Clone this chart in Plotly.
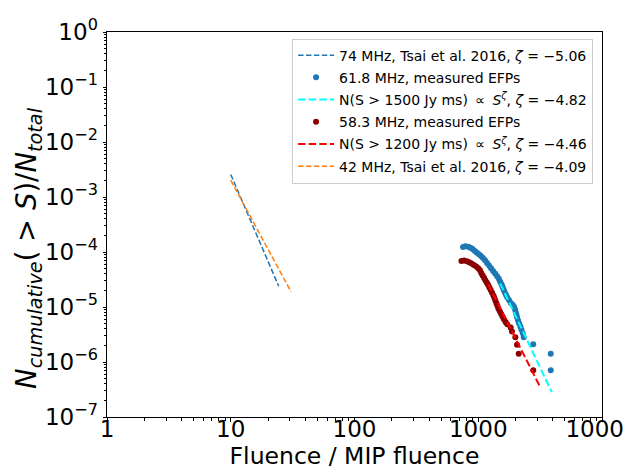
import plotly.graph_objects as go

# ---- data ----
tsai74_fluence = [10.0, 24.4]
tsai74_N = [2.57e-3, 2.39e-5]

meas618_fluence = [754, 788, 829, 866, 899, 939, 975, 1013, 1051, 1092, 1134, 1177, 1222, 1269,
                   1318, 1369, 1421, 1466, 1504, 1542, 1571, 1601, 1631, 1673, 1715, 1770, 1826,
                   1896, 1944, 1982, 2007, 2032, 2057, 2097, 2136, 2191, 2233, 2290, 2333, 2781,
                   3853, 3853]
meas618_N = [1.23e-4, 1.27e-4, 1.25e-4, 1.20e-4, 1.13e-4, 1.04e-4, 9.7e-5, 9.1e-5, 8.5e-5, 7.8e-5,
             7.07e-5, 6.33e-5, 5.66e-5, 5.07e-5, 4.53e-5, 4.06e-5, 3.63e-5, 3.25e-5, 2.87e-5,
             2.60e-5, 2.33e-5, 2.09e-5, 1.87e-5, 1.67e-5, 1.50e-5, 1.34e-5, 1.20e-5, 1.10e-5,
             1.01e-5, 9.1e-6, 8.1e-6, 7.3e-6, 6.5e-6, 5.7e-6, 5.07e-6, 4.41e-6, 3.84e-6, 3.34e-6,
             2.83e-6, 2.11e-6, 1.41e-6, 7.07e-7]

fit1500_fluence = [1504, 3926]
fit1500_N = [2.68e-5, 2.83e-7]

meas583_fluence = [731, 768, 808, 844, 882, 922, 963, 1000, 1032, 1058, 1085, 1113, 1141, 1170,
                   1200, 1230, 1261, 1293, 1326, 1351, 1377, 1404, 1430, 1457, 1494, 1532, 1571,
                   1611, 1662, 1715, 1826, 1873, 1994, 2057, 2123, 2781]
meas583_N = [6.88e-5, 6.97e-5, 6.78e-5, 6.51e-5, 6.15e-5, 5.82e-5, 5.43e-5, 5.07e-5, 4.66e-5,
             4.17e-5, 3.74e-5, 3.39e-5, 3.08e-5, 2.79e-5, 2.53e-5, 2.27e-5, 2.03e-5, 1.82e-5,
             1.62e-5, 1.45e-5, 1.30e-5, 1.16e-5, 1.04e-5, 9.3e-6, 8.35e-6, 7.47e-6, 6.69e-6,
             5.98e-6, 5.36e-6, 4.86e-6, 4.23e-6, 3.58e-6, 2.83e-6, 2.06e-6, 1.41e-6, 7.07e-7]

fit1200_fluence = [1200, 3190]
fit1200_N = [2.6e-5, 3.39e-7]

tsai42_fluence = [10.0, 30.7]
tsai42_N = [2.02e-3, 1.89e-5]

x_tickvals = [1, 10, 100, 1000, 10000]
x_ticktext = ["1", "10", "100", "1000", "10000"]
y_tickvals = [1, 1e-1, 1e-2, 1e-3, 1e-4, 1e-5, 1e-6, 1e-7]
y_ticktext = ["10<sup>0</sup>", "10<sup>−1</sup>", "10<sup>−2</sup>", "10<sup>−3</sup>",
              "10<sup>−4</sup>", "10<sup>−5</sup>", "10<sup>−6</sup>", "10<sup>−7</sup>"]

FONT = "DejaVu Sans"
thin_dash = "5.5px,2.4px"
thick_dash = "7.4px,3.2px"

# minor tick positions (2..9 within each decade)
x_minor = [m * 10 ** e for e in range(0, 4) for m in range(2, 10)]
y_minor = [m * 10.0 ** e for e in range(-7, 0) for m in range(2, 10)]

traces = [
    dict(x=tsai74_fluence, y=tsai74_N, mode="lines",
         line=dict(color="#1f77b4", width=1.5, dash=thin_dash),
         name="74 MHz, Tsai et al. 2016, <i>ζ</i> = −5.06"),
    dict(x=meas618_fluence, y=meas618_N, mode="markers",
         marker=dict(color="#1f77b4", size=6),
         name="61.8 MHz, measured EFPs"),
    dict(x=fit1500_fluence, y=fit1500_N, mode="lines",
         line=dict(color="#00ffff", width=2, dash=thick_dash),
         name="N(S &gt; 1500 Jy ms) \u2009∝\u2009 <i>S</i><sup><i>ζ</i></sup>, <i>ζ</i> = −4.82"),
    dict(x=meas583_fluence, y=meas583_N, mode="markers",
         marker=dict(color="#8b0000", size=6),
         name="58.3 MHz, measured EFPs"),
    dict(x=fit1200_fluence, y=fit1200_N, mode="lines",
         line=dict(color="#ff0000", width=2, dash=thick_dash),
         name="N(S &gt; 1200 Jy ms) \u2009∝\u2009 <i>S</i><sup><i>ζ</i></sup>, <i>ζ</i> = −4.46"),
    dict(x=tsai42_fluence, y=tsai42_N, mode="lines",
         line=dict(color="#ff7f0e", width=1.5, dash=thin_dash),
         name="42 MHz, Tsai et al. 2016, <i>ζ</i> = −4.09"),
]

fig = go.Figure()
for i, t in enumerate(traces):
    fig.add_trace(go.Scatter(legendgroup=f"g{i}", **t))

axis_common = dict(showline=True, linecolor="black", linewidth=1, mirror=True,
                   ticks="outside", ticklen=3.5, tickwidth=1, tickcolor="black",
                   showgrid=False, zeroline=False,
                   tickfont=dict(family=FONT, size=23, color="black"))

fig.update_xaxes(type="log", range=[0, 4], tickvals=x_tickvals, ticktext=x_ticktext,
                 ticklabelstandoff=-12,
                 minor=dict(tickvals=x_minor, ticks="outside", ticklen=2.5, tickwidth=1,
                            tickcolor="black", showgrid=False),
                 title=dict(text="Fluence / MIP fluence",
                            font=dict(family=FONT, size=23.5, color="black"), standoff=0),
                 **axis_common)
fig.update_yaxes(type="log", range=[-7, 0], tickvals=y_tickvals, ticktext=y_ticktext,
                 minor=dict(tickvals=y_minor, ticks="outside", ticklen=2.5, tickwidth=1,
                            tickcolor="black", showgrid=False),
                 **axis_common)

fig.add_annotation(
    text="<i>N</i><sub><i>cumulative</i></sub>( &gt; <i>S</i>)/<i>N</i><sub><i>total</i></sub>",
    xref="paper", yref="paper", x=(21 - 99) / 495, y=(409.5 - 240) / 386,
    xanchor="center", yanchor="middle", textangle=-90, showarrow=False,
    font=dict(family=FONT, size=27.5, color="black"))

fig.update_layout(
    width=631, height=469,
    margin=dict(l=99, r=37, t=23.5, b=59.5, autoexpand=False),
    paper_bgcolor="white", plot_bgcolor="white",
    font=dict(family=FONT, color="black"),
    showlegend=True,
    legend=dict(x=0.982, xanchor="right", y=0.983, yanchor="top",
                bgcolor="rgba(255,255,255,0.8)", bordercolor="#cccccc", borderwidth=1,
                font=dict(family=FONT, size=14, color="black"),
                itemwidth=36, tracegroupgap=1),
)

fig.write_html("out.html")
